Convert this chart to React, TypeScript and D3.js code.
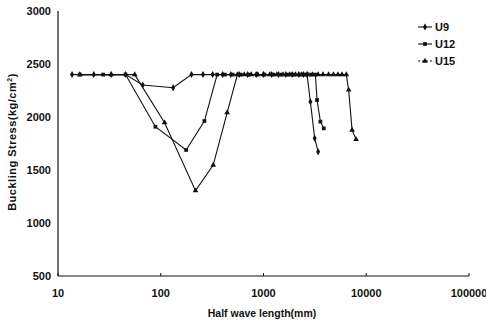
import * as d3 from "d3";

// U9
const u9X = [13.7, 22.3, 32.9, 45.4, 66.8, 132, 199, 258, 320, 400, 480, 580, 700, 850, 1000, 1200, 1400, 1650, 1900, 2200, 2450, 2655, 2860, 3150, 3400];
const u9Y = [2400, 2400, 2400, 2400, 2302, 2276, 2400, 2400, 2400, 2400, 2400, 2400, 2400, 2400, 2400, 2400, 2400, 2400, 2400, 2400, 2400, 2400, 2144, 1799, 1673];

// U12
const u12X = [16.3, 27.5, 45.4, 88.7, 176.6, 266, 354, 420, 500, 600, 720, 860, 1020, 1250, 1500, 1750, 2000, 2300, 2600, 2900, 3200, 3320, 3580, 3860];
const u12Y = [2400, 2400, 2400, 1908, 1689, 1962, 2400, 2400, 2400, 2400, 2400, 2400, 2400, 2400, 2400, 2400, 2400, 2400, 2400, 2400, 2400, 2160, 1956, 1893];

// U15
const u15X = [16.3, 32.9, 55.8, 109, 218, 324, 443, 557, 650, 760, 880, 1000, 1150, 1350, 1550, 1800, 2050, 2350, 2700, 3000, 3400, 3800, 4300, 4800, 5300, 5800, 6400, 6740, 7280, 7960];
const u15Y = [2400, 2400, 2400, 1946, 1305, 1547, 2041, 2400, 2400, 2400, 2400, 2400, 2400, 2400, 2400, 2400, 2400, 2400, 2400, 2400, 2400, 2400, 2400, 2400, 2400, 2400, 2400, 2255, 1877, 1790];

const seriesNames = ["U9", "U12", "U15"];
const xTicks = [10, 100, 1000, 10000, 100000];
const yTicks = [500, 1000, 1500, 2000, 2500, 3000];

const W = 486;
const H = 323;
const margin = { left: 58, top: 11, right: 17, bottom: 47 };
const font = "Arial, 'Liberation Sans', sans-serif";

export default function App() {
  const x = d3.scaleLog().domain([10, 100000]).range([margin.left, W - margin.right]);
  const y = d3.scaleLinear().domain([500, 3000]).range([H - margin.bottom, margin.top]);

  const series = [
    { name: seriesNames[0], xs: u9X, ys: u9Y, sym: d3.symbolDiamond, dash: undefined },
    { name: seriesNames[1], xs: u12X, ys: u12Y, sym: d3.symbolSquare, dash: undefined },
    { name: seriesNames[2], xs: u15X, ys: u15Y, sym: d3.symbolTriangle, dash: "2,2" },
  ];

  const line = d3
    .line<[number, number]>()
    .x(d => x(d[0]))
    .y(d => y(d[1]));

  return (
    <svg
      width={W}
      height={H}
      style={{ position: "absolute", left: 0, top: 0, background: "#fff" }}
      fontFamily={font}
    >
      {/* axes */}
      <line x1={x(10)} x2={x(10)} y1={y(3000)} y2={y(500)} stroke="#111" strokeWidth={1.2} />
      <line x1={x(10)} x2={x(100000)} y1={y(500)} y2={y(500)} stroke="#111" strokeWidth={1.2} />
      {xTicks.map(t => (
        <g key={t}>
          <line x1={x(t)} x2={x(t)} y1={y(500)} y2={y(500) - 3} stroke="#111" />
          <text x={x(t)} y={y(500) + 21} textAnchor="middle" fontSize={11} fontWeight="bold" fill="#111">
            {t}
          </text>
        </g>
      ))}
      {yTicks.map(t => (
        <text key={t} x={x(10) - 7} y={y(t) + 4} textAnchor="end" fontSize={11} fontWeight="bold" fill="#111">
          {t}
        </text>
      ))}
      <text
        transform={`translate(16,142) rotate(-90)`}
        textAnchor="middle"
        fontSize={11}
        fontWeight="bold"
        letterSpacing={0.5}
        fill="#111"
      >
        Buckling Stress(kg/cm<tspan dy={-4} fontSize={7}>2</tspan><tspan dy={4}>)</tspan>
      </text>
      <text x={262} y={317} textAnchor="middle" fontSize={10.5} fontWeight="bold" fill="#111">
        Half wave length(mm)
      </text>

      {/* series */}
      {series.map(s => {
        const pts = s.xs.map((v, i) => [v, s.ys[i]] as [number, number]);
        const sym = d3.symbol(s.sym, 14)();
        return (
          <g key={s.name}>
            <path d={line(pts) ?? ""} fill="none" stroke="#111" strokeWidth={1.1} />
            {pts.map((p, i) => (
              <path key={i} d={sym ?? ""} transform={`translate(${x(p[0])},${y(p[1])})`} fill="#111" />
            ))}
          </g>
        );
      })}

      {/* legend */}
      {series.map((s, i) => {
        const ly = 27 + i * 17;
        const sym = d3.symbol(s.sym, 14)();
        return (
          <g key={s.name}>
            <line x1={418} x2={432} y1={ly} y2={ly} stroke="#111" strokeWidth={1.1} strokeDasharray={s.dash} />
            <path d={sym ?? ""} transform={`translate(425,${ly})`} fill="#111" />
            <text x={435} y={ly + 4} fontSize={11} fontWeight="bold" fill="#111">
              {s.name}
            </text>
          </g>
        );
      })}
    </svg>
  );
}
